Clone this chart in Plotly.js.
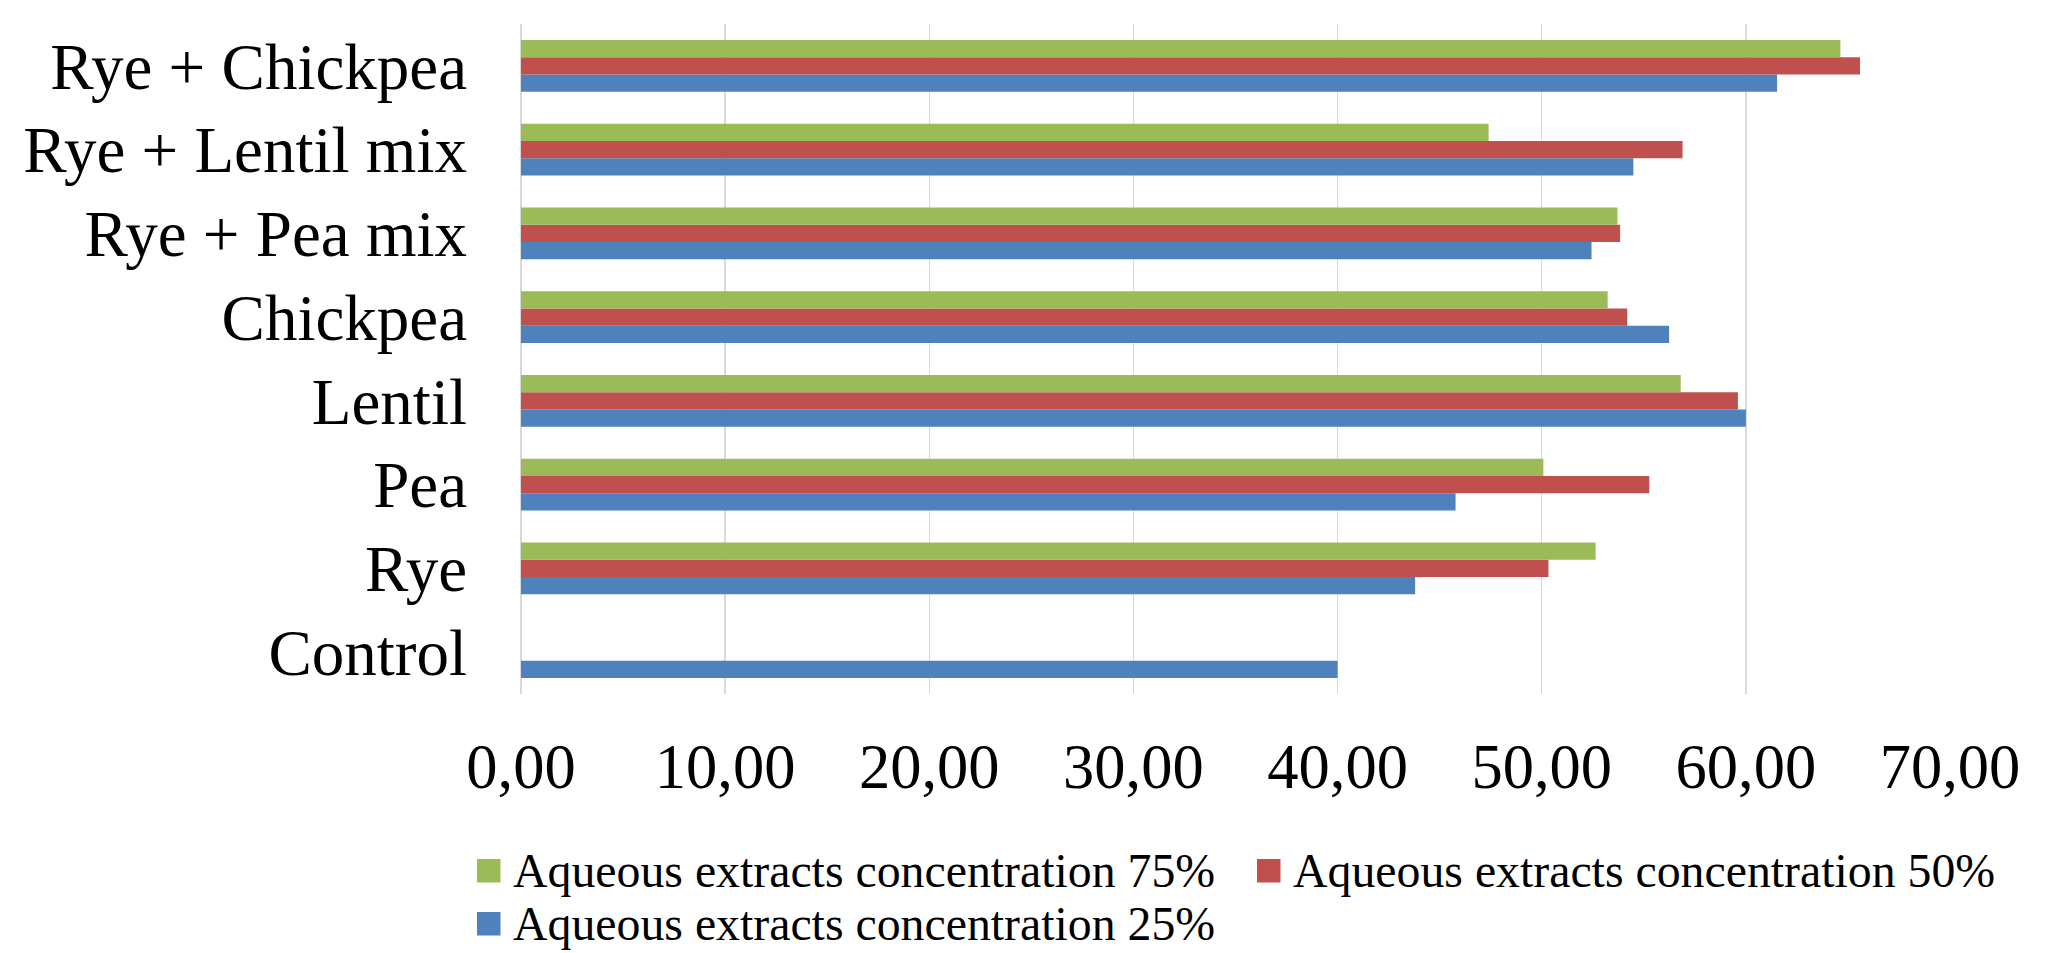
<!DOCTYPE html>
<html>
<head>
<meta charset="utf-8">
<script src="https://cdn.plot.ly/plotly-3.0.1.min.js"></script>
<style>
  html, body { margin: 0; padding: 0; background: #ffffff; }
  #chart { width: 2070px; height: 953px; }
</style>
</head>
<body>
<div id="chart"></div>
<script>
// Categories, bottom to top as drawn on the axis
const categories = ["Control", "Rye", "Pea", "Lentil", "Chickpea", "Rye + Pea mix", "Rye + Lentil mix", "Rye + Chickpea"];

// Series values (same order as categories)
const conc25 = [40.00, 43.80, 45.78, 60.00, 56.24, 52.44, 54.49, 61.53];
const conc50 = [null, 50.33, 55.27, 59.61, 54.19, 53.84, 56.90, 65.59];
const conc75 = [null, 52.64, 50.08, 56.81, 53.23, 53.71, 47.40, 64.63];

const seriesNames = [
  "Aqueous extracts concentration 25%",
  "Aqueous extracts concentration 50%",
  "Aqueous extracts concentration 75%"
];

const xTickValues = [0, 10, 20, 30, 40, 50, 60, 70];
const xTickLabels = ["0,00", "10,00", "20,00", "30,00", "40,00", "50,00", "60,00", "70,00"];

const colors = { c25: "#4F81BD", c50: "#C0504D", c75: "#9BBB59" };

const FONT = "Liberation Serif, Times New Roman, serif";

const traces = [
  { type: "bar", orientation: "h", name: seriesNames[0], y: categories, x: conc25,
    marker: { color: colors.c25 }, showlegend: false, hoverinfo: "x+name" },
  { type: "bar", orientation: "h", name: seriesNames[1], y: categories, x: conc50,
    marker: { color: colors.c50 }, showlegend: false, hoverinfo: "x+name" },
  { type: "bar", orientation: "h", name: seriesNames[2], y: categories, x: conc75,
    marker: { color: colors.c75 }, showlegend: false, hoverinfo: "x+name" }
];

// Plot area geometry (pixels) for legend placement helpers
const W = 2070, H = 953;
const M = { l: 521, r: 120, t: 24, b: 259 };
const PW = W - M.l - M.r, PH = H - M.t - M.b;
const px = v => (v - M.l) / PW;
const py = v => (H - M.b - v) / PH;

// Custom legend (order: 75%, 50% on first row; 25% on second row)
const legendItems = [
  { name: seriesNames[2], color: colors.c75, x: 477, y: 859 },
  { name: seriesNames[1], color: colors.c50, x: 1257, y: 859 },
  { name: seriesNames[0], color: colors.c25, x: 477, y: 912 }
];
const SQ = 23.5;
const shapes = legendItems.map(it => ({
  type: "rect", xref: "paper", yref: "paper",
  x0: px(it.x), x1: px(it.x + SQ), y0: py(it.y + SQ), y1: py(it.y),
  fillcolor: it.color, line: { width: 0 }
}));
const annotations = legendItems.map(it => ({
  xref: "paper", yref: "paper", x: px(it.x + SQ + 10), y: py(it.y + SQ / 2),
  xanchor: "left", yanchor: "middle", showarrow: false,
  text: it.name, font: { family: FONT, size: 47.8, color: "#000000" }
}));

const layout = {
  width: W, height: H,
  margin: M,
  paper_bgcolor: "#ffffff", plot_bgcolor: "#ffffff",
  barmode: "group",
  bargap: 0.38, bargroupgap: 0,
  showlegend: false,
  font: { family: FONT, color: "#000000" },
  xaxis: {
    range: [0, 70], tickmode: "array", tickvals: xTickValues, ticktext: xTickLabels,
    showgrid: true, gridcolor: "#D9D9D9", gridwidth: 1.5,
    zeroline: true, zerolinecolor: "#D9D9D9", zerolinewidth: 1.5,
    showline: false, ticks: "", ticklabelstandoff: 30,
    tickfont: { family: FONT, size: 62.5, color: "#000000" }, fixedrange: true
  },
  yaxis: {
    type: "category", categoryorder: "array", categoryarray: categories,
    showgrid: false, zeroline: false, showline: false, ticks: "",
    ticklabelstandoff: 53,
    tickfont: { family: FONT, size: 65, color: "#000000" }, fixedrange: true
  },
  shapes: shapes,
  annotations: annotations
};

Plotly.newPlot("chart", traces, layout, { displayModeBar: false, staticPlot: true });
</script>
</body>
</html>
